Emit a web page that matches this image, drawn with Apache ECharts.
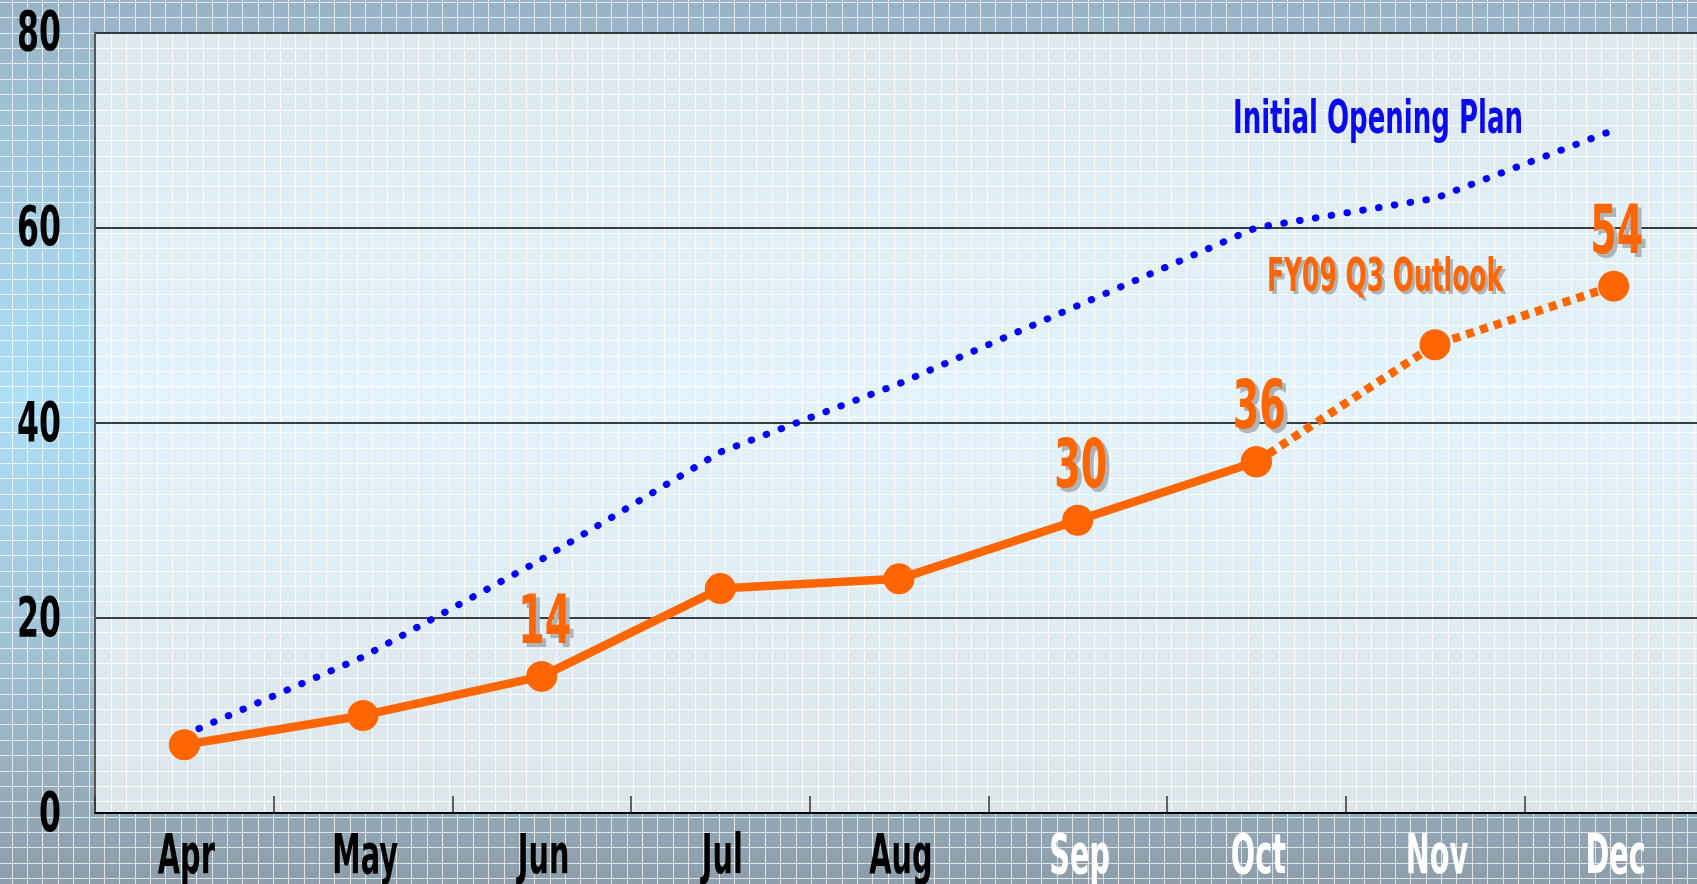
<!DOCTYPE html>
<html><head><meta charset="utf-8">
<script src="https://cdn.jsdelivr.net/npm/echarts@6/dist/echarts.min.js"></script>
<style>html,body{margin:0;padding:0;overflow:hidden;background:#9bb5c6}#c{width:1697px;height:884px}</style>
</head><body><div id="c"></div>
<script>
// ---- data ----
const months = ['Apr','May','Jun','Jul','Aug','Sep','Oct','Nov','Dec'];
const planValues = [8,16,26,37,44,52,60,63,70];
const outlookValues = [7,10,14,23,24,30,36,48,54];
const lastActualMonth = 'Oct';
const labeledMonths = ['Jun','Sep','Oct','Dec'];
const darkLabelMonths = ['Apr','May','Jun','Jul','Aug'];
const yTicks = [0,20,40,60,80];
const planName = 'Initial Opening Plan';
const outlookName = 'FY09 Q3 Outlook';

// ---- layout / style ----
const W = 1697, H = 884;
const G = {left: 95, top: 32.5, right: -6, bottom: 71};
const FONT = '"DejaVu Sans Condensed","DejaVu Sans",sans-serif';
const ORANGE = '#ff6600', BLUE = '#0000ff', SHADOW = '#aeb4b8';
const splitIdx = months.indexOf(lastActualMonth);

const actualData = outlookValues.map((v,i)=> i<=splitIdx ? v : '-');
const forecastData = outlookValues.map((v,i)=> i>=splitIdx ? v : '-');

// background graphics
const bg = [];
bg.push({type:'rect', z:-100, silent:true, shape:{x:0,y:0,width:W,height:H},
  style:{fill:{type:'linear',x:0,y:0,x2:0,y2:1,colorStops:[
    {offset:0,color:'#99b3c4'},{offset:0.22,color:'#a3cbe0'},{offset:0.45,color:'#addff7'},
    {offset:0.7,color:'#a3c6d9'},{offset:1,color:'#8d9ea9'}]}}});
const SP = 15.37;
for (let x = 11.7; x < W; x += SP) bg.push({type:'line', z:-99, silent:true, shape:{x1:Math.round(x)+0.5,y1:0,x2:Math.round(x)+0.5,y2:H}, style:{stroke:'rgba(255,255,255,0.7)',lineWidth:1}});
for (let y = 2; y < H; y += SP) bg.push({type:'line', z:-99, silent:true, shape:{x1:0,y1:Math.round(y)+0.5,x2:W,y2:Math.round(y)+0.5}, style:{stroke:'rgba(255,255,255,0.7)',lineWidth:1}});
const PX = G.left, PY = G.top, PW = W - G.left - G.right, PH = H - G.top - G.bottom;
bg.push({type:'rect', z:-98, silent:true, shape:{x:PX,y:PY,width:PW,height:PH},
  style:{fill:{type:'linear',x:0,y:0,x2:0,y2:1,colorStops:[
    {offset:0,color:'#dde8ee'},{offset:0.45,color:'#e3f3fb'},{offset:1,color:'#dce5ea'}]}}});
for (let x = 3; x < W; x += SP) if (x > PX+2) bg.push({type:'line', z:-97, silent:true, shape:{x1:Math.round(x)+0.5,y1:PY,x2:Math.round(x)+0.5,y2:PY+PH}, style:{stroke:'rgba(255,255,255,0.8)',lineWidth:1}});
for (let y = 2; y < H; y += SP) if (y > PY+2 && y < PY+PH-1) bg.push({type:'line', z:-97, silent:true, shape:{x1:PX,y1:Math.round(y)+0.5,x2:PX+PW,y2:Math.round(y)+0.5}, style:{stroke:'rgba(255,255,255,0.8)',lineWidth:1}});

// text helpers: condensed text squeezed horizontally to the reference proportions
const mctx = document.createElement('canvas').getContext('2d');
function measure(text, font){ mctx.font = font; return mctx.measureText(text).width; }
function txt(text, x, y, font, fill, scaleX, align, z, shadow){
  const out = [];
  if (shadow) out.push({type:'text', z:z-1, silent:true, x:x+shadow, y:y+shadow, scaleX,
    style:{text, x:0, y:0, fill:SHADOW, font, verticalAlign:'middle', align}});
  out.push({type:'text', z, silent:true, x, y, scaleX, style:{text, x:0, y:0, fill, font, verticalAlign:'middle', align}});
  return out;
}

const legFont = 'bold 46px ' + FONT;
const legend = [
  ...txt(planName, 1233, 121.5, legFont, '#0a0af0', 290/measure(planName, legFont), 'left', 30, 0),
  ...txt(outlookName, 1267, 279.5, legFont, ORANGE, 236/measure(outlookName, legFont), 'left', 30, 3)
];

const chart = echarts.init(document.getElementById('c'), null, {renderer:'canvas'});
chart.setOption({
  animation:false,
  backgroundColor:'transparent',
  grid:{left:G.left, top:G.top, right:G.right, bottom:G.bottom, containLabel:false, outerBoundsMode:'none'},
  xAxis:{type:'category', data:months, boundaryGap:true,
    axisLine:{show:true, lineStyle:{color:'#000', width:2}},
    axisTick:{show:true, inside:true, length:17, lineStyle:{color:'#333', width:1.5}},
    axisLabel:{show:false},
    splitLine:{show:false}},
  yAxis:{type:'value', min:yTicks[0], max:yTicks[yTicks.length-1], interval:yTicks[1]-yTicks[0],
    axisLine:{show:true, lineStyle:{color:'#555', width:2}},
    axisTick:{show:false},
    axisLabel:{show:false},
    splitLine:{show:true, lineStyle:{color:'#000', width:1.5}}},
  series:[
    {name:planName, type:'line', data:planValues, showSymbol:false, z:3,
      lineStyle:{color:BLUE, width:7, type:[0.5,15.5], cap:'round'}},
    {name:outlookName, type:'line', data:actualData, symbol:'circle', symbolSize:31, z:5,
      itemStyle:{color:ORANGE}, lineStyle:{color:ORANGE, width:8.5}},
    {name:outlookName + ' (forecast)', type:'line', data:forecastData, symbol:'circle', symbolSize:31, z:4,
      itemStyle:{color:ORANGE}, lineStyle:{color:ORANGE, width:8.5, type:[8,6.5]}}
  ]
});

// axis tick labels and value labels, placed through the chart's own scales
const axisFont = 'bold 55px ' + FONT;
const ySc = 44 / measure('40', axisFont);
const xSc = 57 / measure('Apr', axisFont);
const labels = [];
yTicks.forEach(v => {
  const p = chart.convertToPixel({yAxisIndex:0}, v);
  labels.push(...txt(String(v), 61, p + 3.5, axisFont, '#000', ySc, 'right', 30, 0));
});
months.forEach(m => {
  const p = chart.convertToPixel({xAxisIndex:0}, m);
  labels.push(...txt(m, p + 2, 858.5, axisFont, darkLabelMonths.includes(m) ? '#000' : '#fff', xSc, 'center', 30, 0));
});
const valFont = 'bold 68px ' + FONT;
const vSc = 53 / measure('54', valFont);
months.forEach((m, i) => {
  if (!labeledMonths.includes(m)) return;
  const p = chart.convertToPixel({xAxisIndex:0, yAxisIndex:0}, [m, outlookValues[i]]);
  labels.push(...txt(String(outlookValues[i]), p[0] + 3, p[1] - 51, valFont, ORANGE, vSc, 'center', 40, 4));
});

chart.setOption({graphic: [...bg, ...legend, ...labels]});
</script></body></html>
